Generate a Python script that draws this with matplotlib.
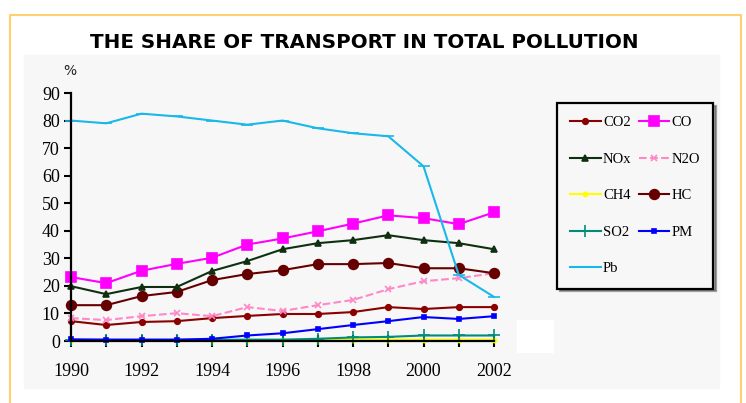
import numpy as np
import matplotlib.pyplot as plt
from matplotlib.patches import Rectangle
from matplotlib.lines import Line2D

years = np.arange(1990, 2003)

co2 = [7.2, 5.8, 6.9, 7.2, 8.3, 9.1, 9.8, 9.8, 10.5, 12.3, 11.6, 12.3, 12.3]
co  = [23.2, 21.0, 25.5, 28.0, 30.2, 35.0, 37.2, 39.8, 42.6, 45.6, 44.6, 42.4, 46.7]
nox = [19.9, 17.0, 19.6, 19.6, 25.4, 29.0, 33.3, 35.5, 36.6, 38.4, 36.6, 35.5, 33.3]
n2o = [8.3, 7.6, 9.0, 10.1, 9.0, 12.3, 10.9, 13.0, 14.9, 18.8, 21.7, 22.8, 24.6]
ch4 = [0.2, 0.2, 0.2, 0.2, 0.2, 0.2, 0.2, 0.3, 0.5, 0.5, 0.5, 0.5, 0.5]
hc  = [13.0, 13.0, 16.3, 17.8, 22.1, 24.3, 25.7, 27.9, 27.9, 28.3, 26.4, 26.4, 24.6]
so2 = [0.4, 0.4, 0.4, 0.4, 0.4, 0.5, 0.5, 0.8, 1.3, 1.5, 2.0, 2.0, 2.0]
pm  = [0.6, 0.5, 0.5, 0.5, 0.8, 2.0, 2.8, 4.3, 5.8, 7.2, 8.7, 8.0, 9.0]
pb  = [80.0, 79.0, 82.5, 81.5, 80.0, 78.5, 80.0, 77.2, 75.4, 74.3, 63.4, 24.0, 16.0]

series = [
    # name, values, color, marker, markersize, linestyle
    ("CH4", ch4, "#ffff00", "o", 3, "-"),
    ("SO2", so2, "#008b7a", "+", 8, "-"),
    ("PM",  pm,  "#0000ff", "s", 3, "-"),
    ("CO2", co2, "#8b0000", "o", 4, "-"),
    ("N2O", n2o, "#ff88c8", "x", 5, "--"),
    ("HC",  hc,  "#660000", "o", 7, "-"),
    ("NOx", nox, "#0f3010", "^", 4, "-"),
    ("CO",  co,  "#ff00ff", "s", 6.5, "-"),
    ("Pb",  pb,  "#1ab8e8", "_", 9, "-"),
]

fig = plt.figure(figsize=(7.46, 4.03), dpi=100)

# grey panel and orange frame
fig.patches.append(Rectangle((24/746, 1-388/403), 695/746, 333/403,
                             transform=fig.transFigure, color="#f7f7f7", zorder=-2))
fig.patches.append(Rectangle((517/746, 1-352/403), 36/746, 32/403,
                             transform=fig.transFigure, color="white", zorder=-1))
fc = "#ffd070"
fig.lines.append(Line2D([10/746, 10/746, 741/746, 741/746], [0, 1-15/403, 1-15/403, 0],
                        transform=fig.transFigure, color=fc, lw=1.5, zorder=-1))

ax = fig.add_axes([71/746, 1-341/403, 423/746, 248/403])
ax.set_facecolor("none")
ax.set_zorder(1)

handles = {}
for name, vals, col, mk, ms, ls in series:
    h, = ax.plot(years, vals, color=col, lw=1.5, ls=ls, marker=mk, markersize=ms,
                 markeredgewidth=1.2, clip_on=False, label=name)
    handles[name] = h

ax.set_xlim(1990, 2002)
ax.set_ylim(0, 90)
ax.set_yticks(range(0, 91, 10))
ax.set_xticks(years)
ax.set_xticklabels([str(y) if y % 2 == 0 else "" for y in years])
for s in ["top", "right"]:
    ax.spines[s].set_visible(False)
for s in ["left", "bottom"]:
    ax.spines[s].set_linewidth(1.6)
ax.tick_params(axis="y", direction="out", length=5, width=1.5, pad=3)
ax.tick_params(axis="x", direction="inout", length=8, width=1.5, pad=12)
for lab in ax.get_xticklabels() + ax.get_yticklabels():
    lab.set_fontfamily("Liberation Serif")
    lab.set_fontsize(13)

fig.text(70/746, 1-71/403, "%", fontsize=10, ha="center", va="center", color="#222222")
fig.text(364/746, 1-42/403, "THE SHARE OF TRANSPORT IN TOTAL POLLUTION",
         fontsize=14.3, fontweight="bold", ha="center", va="center")

order = ["CO2", "NOx", "CH4", "SO2", "Pb", "CO", "N2O", "HC", "PM"]
leg = fig.legend([handles[n] for n in order], order, ncol=2,
                 loc="upper left", bbox_to_anchor=(557/746, 1-103/403),
                 prop={"family": "Liberation Serif", "size": 10.5},
                 frameon=True, fancybox=False, shadow=True,
                 handlelength=2.1, labelspacing=1.6, columnspacing=0.5,
                 handletextpad=0.15, borderpad=0.9, borderaxespad=0)
leg.get_frame().set_edgecolor("black")
leg.get_frame().set_linewidth(1.6)
leg.get_frame().set_facecolor("#f7f7f7")
leg.set_zorder(2)

fig.savefig("out.png", dpi=100)
